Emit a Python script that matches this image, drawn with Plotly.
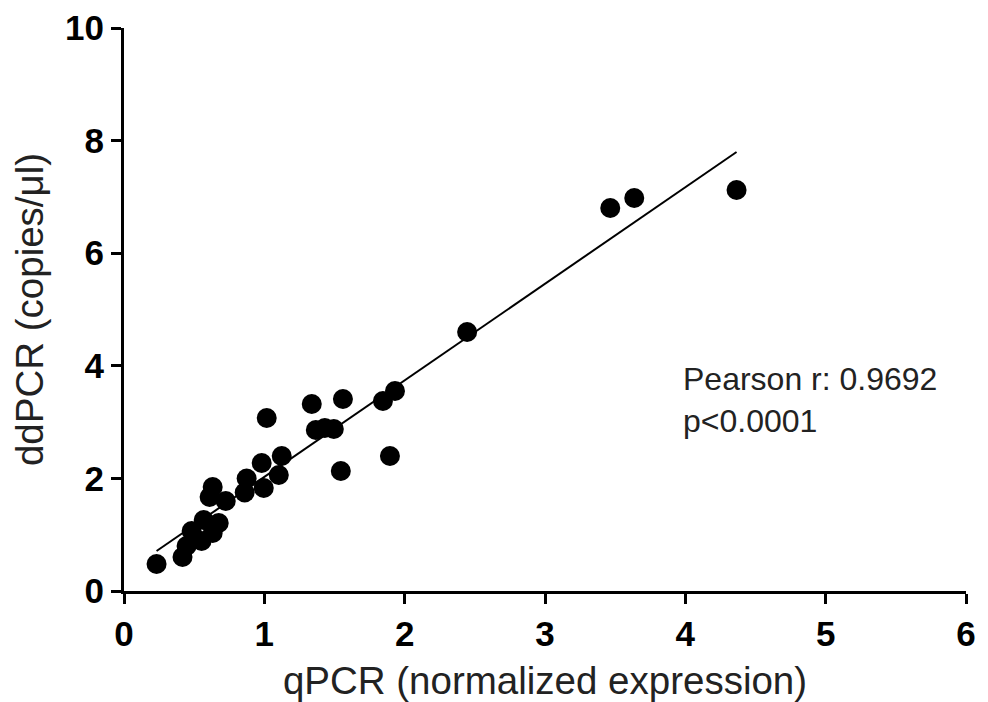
import plotly.graph_objects as go

qpcr = [0.232, 0.417, 0.446, 0.482, 0.568, 0.675, 0.553, 0.632, 0.632, 0.610,
        0.725, 0.874, 0.860, 0.981, 1.124, 1.103, 0.996, 1.017, 1.338, 1.560,
        1.367, 1.431, 1.495, 1.545, 1.845, 1.931, 1.895, 2.445, 3.465, 3.636, 4.365]
ddpcr = [0.480, 0.604, 0.799, 1.066, 1.261, 1.208, 0.888, 1.030, 1.847, 1.670,
         1.599, 1.998, 1.749, 2.274, 2.398, 2.060, 1.829, 3.073, 3.321, 3.410,
         2.859, 2.895, 2.877, 2.131, 3.375, 3.553, 2.398, 4.600, 6.803, 6.980, 7.122]

fit_slope = 1.715
fit_intercept = 0.312
x_ticks = [0, 1, 2, 3, 4, 5, 6]
y_ticks = [0, 2, 4, 6, 8, 10]
annotation_text = "Pearson r: 0.9692<br>p<0.0001"

fx = [min(qpcr), max(qpcr)]
fy = [fit_intercept + fit_slope * v for v in fx]

FONT = "Liberation Sans, Arial, sans-serif"

fig = go.Figure()
fig.add_trace(go.Scatter(x=fx, y=fy, mode="lines",
                         line=dict(color="black", width=2), hoverinfo="skip"))
fig.add_trace(go.Scatter(x=qpcr, y=ddpcr, mode="markers",
                         marker=dict(color="black", size=20)))

axis_common = dict(showline=True, linecolor="black", linewidth=3,
                   ticks="outside", ticklen=10, tickwidth=3, tickcolor="black",
                   showgrid=False, zeroline=False,
                   tickfont=dict(family=FONT, size=35, color="black", weight="bold"))

fig.update_xaxes(range=[0, 6], tickvals=x_ticks, **axis_common,
                 title=dict(text="qPCR (normalized expression)",
                            font=dict(family=FONT, size=38.5, color="#222"), standoff=16))
fig.update_yaxes(range=[0, 10], tickvals=y_ticks, **axis_common,
                 title=dict(text="ddPCR (copies/μl)",
                            font=dict(family=FONT, size=38.5, color="#222"), standoff=14))

fig.add_annotation(x=3.97, y=3.4, xref="x", yref="y", text=annotation_text,
                   showarrow=False, xanchor="left", yanchor="middle", align="left",
                   font=dict(family=FONT, size=32, color="#222"))

fig.update_layout(width=988, height=702, showlegend=False,
                  plot_bgcolor="white", paper_bgcolor="white",
                  margin=dict(l=116, r=30, t=20, b=119, autoexpand=False))

fig.write_html("out.html")
